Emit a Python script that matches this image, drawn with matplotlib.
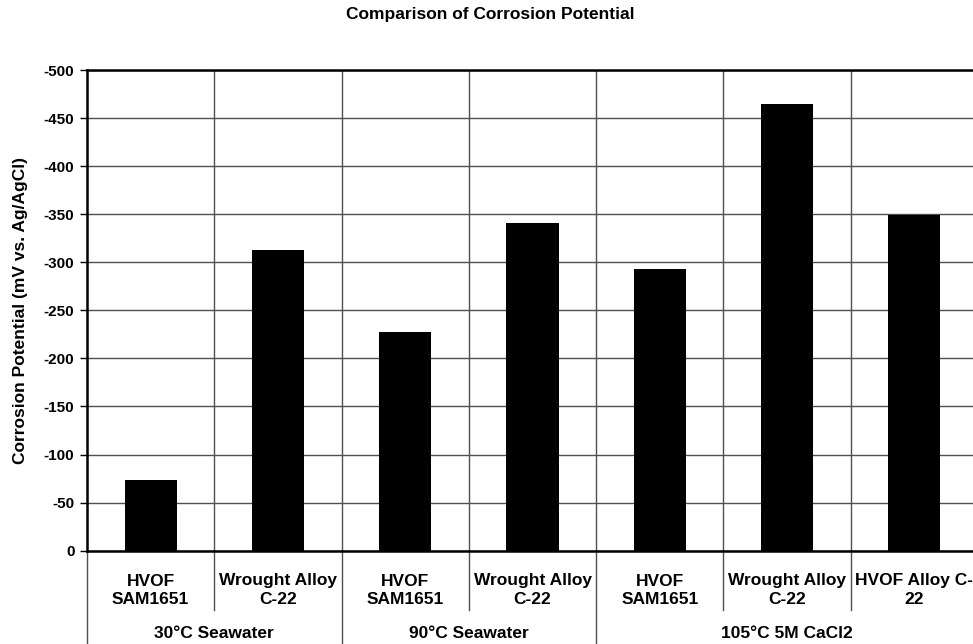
import matplotlib
matplotlib.use('Agg')
import matplotlib.pyplot as plt

# data
categories = ['HVOF\nSAM1651', 'Wrought Alloy\nC-22',
              'HVOF\nSAM1651', 'Wrought Alloy\nC-22',
              'HVOF\nSAM1651', 'Wrought Alloy\nC-22', 'HVOF Alloy C-\n22']
potential = [-74, -313, -228, -341, -293, -465, -349]
groups = ['30°C Seawater', '90°C Seawater', '105°C 5M CaCl2']
group_sizes = [2, 2, 3]
yticks = list(range(0, -501, -50))

plt.rcParams['font.family'] = ['Liberation Sans', 'DejaVu Sans']
plt.rcParams['font.weight'] = 'bold'

fig = plt.figure(figsize=(9.73, 6.44), dpi=100, facecolor='white')
W, H = 973.0, 644.0
x0, x1, y0, y1 = 87.0, 978.0, 550.7, 70.0
ax = fig.add_axes([x0 / W, (H - y0) / H, (x1 - x0) / W, (y0 - y1) / H])

xs = range(len(potential))
ax.bar(xs, potential, width=0.41, color='black', zorder=3)

ax.set_xlim(-0.5, len(potential) - 0.5)
ax.set_ylim(0, -500)
ax.set_yticks(yticks)
ax.set_yticklabels([str(v) for v in yticks], fontsize=11, fontweight='bold')
ax.tick_params(axis='y', length=5, width=1, pad=4)
ax.set_xticks([])

ax.yaxis.grid(True, color='#505050', linewidth=1.0, zorder=1)
ax.set_axisbelow(True)

for s in ['left', 'bottom', 'top']:
    ax.spines[s].set_linewidth(1.8)
    ax.spines[s].set_color('black')
ax.spines['right'].set_visible(False)

# vertical separators between categories and below the axis
axh = y0 - y1
trans = ax.get_xaxis_transform()
bounds = []
acc = 0
for n in group_sizes:
    acc += n
    bounds.append(acc)
for i in range(1, len(potential)):
    b = i - 0.5
    ax.plot([b, b], [0, 1], transform=trans, color='#505050', lw=1.0, zorder=1)
    bottom = -(H - y0) / axh if i in bounds else -(610 - y0) / axh
    ax.plot([b, b], [0, bottom], transform=trans, color='#505050', lw=1.0,
            clip_on=False)
ax.plot([-0.5, -0.5], [0, -(H - y0) / axh], transform=trans, color='#505050',
        lw=1.0, clip_on=False)

# category labels
for i, lab in enumerate(categories):
    ax.text(i, -(590 - y0) / axh, lab, transform=trans, ha='center',
            va='center', fontsize=12.5, fontweight='bold', linespacing=1.25)

# group labels
start = 0
for g, n in zip(groups, group_sizes):
    c = start + (n - 1) / 2
    ax.text(c, -(633 - y0) / axh, g, transform=trans, ha='center',
            va='center', fontsize=12.5, fontweight='bold')
    start += n

ax.set_ylabel('Corrosion Potential (mV vs. Ag/AgCl)', fontsize=12.5,
              fontweight='bold')
ax.yaxis.set_label_coords((28 - x0) / (x1 - x0), (y0 - 310) / axh)
fig.text(490 / W, 1 - 15 / H, 'Comparison of Corrosion Potential',
         ha='center', va='center', fontsize=12.5, fontweight='bold')

fig.savefig('out.png', dpi=100, facecolor='white')
